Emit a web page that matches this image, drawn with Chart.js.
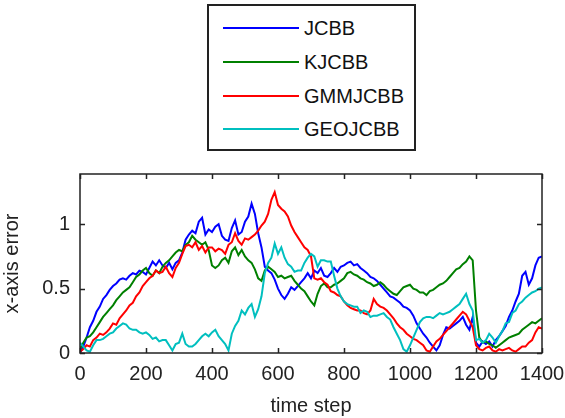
<!DOCTYPE html>
<html>
<head>
<meta charset="utf-8">
<script src="https://cdn.jsdelivr.net/npm/chart.js@4.4.1/dist/chart.umd.min.js"></script>
<style>
    html, body { margin: 0; padding: 0; background: #fff; }
    #wrap { position: relative; width: 565px; height: 418px; }
    #legend {
        position: absolute; left: 207px; top: 4px; width: 205px; height: 143px;
        border: 2px solid #222; background: #fff;
        font-family: "Liberation Sans", Arial, sans-serif; font-size: 20px; color: #111;
    }
    .item { position: absolute; left: 0; height: 24px; }
    .item .ln { position: absolute; left: 14px; top: 11px; width: 76px; height: 2px; }
    .item .tx { position: absolute; left: 95px; top: 0; line-height: 24px; white-space: nowrap; }
</style>
</head>
<body>
<div id="wrap">
    <canvas id="chart" width="565" height="418"></canvas>
    <div id="legend"></div>
</div>
<script>
const seriesNames = ['JCBB', 'KJCBB', 'GMMJCBB', 'GEOJCBB'];
const seriesColors = ['#0000ff', '#008000', '#ff0000', '#00bfbf'];

const timeSteps = [
    0, 10, 20, 30, 40, 50, 60, 70, 80, 90,
    100, 110, 120, 130, 140, 150, 160, 170, 180, 190,
    200, 210, 220, 230, 240, 250, 260, 270, 280, 290,
    300, 310, 320, 330, 340, 350, 360, 370, 380, 390,
    400, 410, 420, 430, 440, 450, 460, 470, 480, 490,
    500, 510, 520, 530, 540, 550, 560, 570, 580, 590,
    600, 610, 620, 630, 640, 650, 660, 670, 680, 690,
    700, 710, 720, 730, 740, 750, 760, 770, 780, 790,
    800, 810, 820, 830, 840, 850, 860, 870, 880, 890,
    900, 910, 920, 930, 940, 950, 960, 970, 980, 990,
    1000, 1010, 1020, 1030, 1040, 1050, 1060, 1070, 1080, 1090,
    1100, 1110, 1120, 1130, 1140, 1150, 1160, 1170, 1180, 1190,
    1200, 1210, 1220, 1230, 1240, 1250, 1260, 1270, 1280, 1290,
    1300, 1310, 1320, 1330, 1340, 1350, 1360, 1370, 1380, 1390,
    1400
];

const jcbb = [
    0.00, 0.05, 0.12, 0.20, 0.25, 0.32, 0.36, 0.42, 0.45, 0.49,
    0.52, 0.54, 0.57, 0.58, 0.57, 0.60, 0.62, 0.61, 0.64, 0.63,
    0.61, 0.66, 0.71, 0.68, 0.72, 0.68, 0.66, 0.70, 0.65, 0.70,
    0.72, 0.78, 0.88, 0.92, 0.95, 0.93, 1.02, 1.05, 0.92, 0.96,
    0.94, 0.98, 1.00, 0.91, 0.88, 0.87, 0.97, 1.03, 0.92, 0.94,
    1.02, 1.06, 1.16, 1.08, 0.93, 0.82, 0.67, 0.64, 0.62, 0.57,
    0.50, 0.45, 0.42, 0.46, 0.51, 0.49, 0.52, 0.55, 0.58, 0.62,
    0.58, 0.64, 0.62, 0.66, 0.60, 0.59, 0.62, 0.66, 0.63, 0.67,
    0.68, 0.70, 0.71, 0.68, 0.69, 0.66, 0.64, 0.62, 0.59, 0.58,
    0.56, 0.53, 0.50, 0.47, 0.44, 0.43, 0.41, 0.39, 0.36, 0.35,
    0.33, 0.29, 0.23, 0.19, 0.15, 0.12, 0.08, 0.05, 0.02, 0.06,
    0.14, 0.20, 0.19, 0.21, 0.23, 0.25, 0.28, 0.22, 0.18, 0.28,
    0.08, 0.05, 0.09, 0.07, 0.09, 0.05, 0.10, 0.13, 0.17, 0.21,
    0.28, 0.33, 0.40, 0.46, 0.60, 0.63, 0.53, 0.58, 0.68, 0.74,
    0.75
];

const kjcbb = [
    0.03, 0.08, 0.12, 0.13, 0.16, 0.20, 0.24, 0.28, 0.31, 0.34,
    0.37, 0.41, 0.44, 0.47, 0.49, 0.51, 0.55, 0.59, 0.61, 0.64,
    0.66, 0.62, 0.60, 0.64, 0.62, 0.67, 0.70, 0.72, 0.75, 0.78,
    0.80, 0.79, 0.84, 0.86, 0.91, 0.88, 0.86, 0.84, 0.86, 0.80,
    0.68, 0.66, 0.68, 0.72, 0.74, 0.70, 0.79, 0.82, 0.76, 0.80,
    0.75, 0.72, 0.70, 0.65, 0.58, 0.56, 0.64, 0.67, 0.65, 0.63,
    0.59, 0.60, 0.58, 0.59, 0.60, 0.56, 0.53, 0.50, 0.48, 0.44,
    0.40, 0.37, 0.46, 0.52, 0.54, 0.51, 0.51, 0.53, 0.54, 0.56,
    0.58, 0.62, 0.63, 0.61, 0.60, 0.58, 0.57, 0.55, 0.54, 0.52,
    0.53, 0.55, 0.53, 0.50, 0.48, 0.46, 0.45, 0.48, 0.51, 0.52,
    0.53, 0.50, 0.49, 0.47, 0.47, 0.45, 0.48, 0.49, 0.51, 0.53,
    0.54, 0.56, 0.59, 0.62, 0.65, 0.66, 0.69, 0.71, 0.75, 0.72,
    0.33, 0.12, 0.08, 0.09, 0.07, 0.06, 0.04, 0.06, 0.08, 0.10,
    0.12, 0.13, 0.14, 0.15, 0.18, 0.20, 0.22, 0.24, 0.23, 0.25,
    0.27
];

const gmmjcbb = [
    0.01, 0.03, 0.06, 0.05, 0.10, 0.12, 0.15, 0.14, 0.16, 0.19,
    0.23, 0.22, 0.27, 0.30, 0.33, 0.37, 0.39, 0.44, 0.47, 0.52,
    0.55, 0.58, 0.60, 0.64, 0.62, 0.63, 0.67, 0.62, 0.59, 0.66,
    0.70, 0.77, 0.83, 0.84, 0.82, 0.86, 0.80, 0.83, 0.78, 0.82,
    0.82, 0.79, 0.81, 0.80, 0.77, 0.84, 0.86, 0.93, 0.87, 0.84,
    0.89, 0.88, 0.90, 0.92, 0.95, 0.99, 1.02, 1.08, 1.19, 1.25,
    1.15, 1.12, 1.10, 1.06, 0.99, 0.94, 0.90, 0.86, 0.82, 0.80,
    0.75, 0.58, 0.57, 0.58, 0.55, 0.53, 0.48, 0.47, 0.45, 0.44,
    0.40, 0.37, 0.35, 0.34, 0.33, 0.33, 0.31, 0.30, 0.33, 0.42,
    0.38, 0.36, 0.35, 0.33, 0.30, 0.27, 0.23, 0.20, 0.18, 0.15,
    0.13, 0.11, 0.10, 0.08, 0.06, 0.02, 0.01, 0.05, 0.09, 0.11,
    0.14, 0.17, 0.20, 0.23, 0.26, 0.29, 0.32, 0.30, 0.25, 0.20,
    0.06, 0.03, 0.02, 0.04, 0.05, 0.02, 0.01, 0.03, 0.02, 0.03,
    0.04, 0.02, 0.01, 0.03, 0.05, 0.05, 0.08, 0.10, 0.16, 0.20,
    0.19
];

const geojcbb = [
    0.08, 0.05, 0.02, 0.01, 0.06, 0.10, 0.10, 0.11, 0.13, 0.15,
    0.16, 0.19, 0.21, 0.23, 0.22, 0.19, 0.18, 0.18, 0.16, 0.15,
    0.16, 0.14, 0.11, 0.12, 0.09, 0.10, 0.10, 0.06, 0.02, 0.07,
    0.08, 0.15, 0.07, 0.05, 0.05, 0.07, 0.10, 0.13, 0.15, 0.13,
    0.16, 0.18, 0.13, 0.10, 0.07, 0.02, 0.15, 0.21, 0.25, 0.33,
    0.30, 0.35, 0.38, 0.28, 0.34, 0.44, 0.62, 0.70, 0.74, 0.85,
    0.77, 0.82, 0.74, 0.69, 0.67, 0.63, 0.64, 0.64, 0.70, 0.74,
    0.77, 0.75, 0.67, 0.72, 0.72, 0.71, 0.71, 0.60, 0.50, 0.44,
    0.40, 0.38, 0.37, 0.36, 0.36, 0.31, 0.33, 0.32, 0.28, 0.29,
    0.29, 0.30, 0.31, 0.28, 0.26, 0.20, 0.15, 0.10, 0.03, 0.01,
    0.06, 0.12, 0.18, 0.24, 0.27, 0.28, 0.28, 0.27, 0.29, 0.31,
    0.30, 0.31, 0.32, 0.34, 0.36, 0.38, 0.42, 0.46, 0.38, 0.33,
    0.10, 0.11, 0.08, 0.10, 0.15, 0.12, 0.08, 0.13, 0.17, 0.23,
    0.24, 0.31, 0.33, 0.38, 0.40, 0.43, 0.45, 0.47, 0.48, 0.50,
    0.51
];

const xTicks = [0, 200, 400, 600, 800, 1000, 1200, 1400];
const yTicks = [0, 0.5, 1];

const allSeries = [jcbb, kjcbb, gmmjcbb, geojcbb];
const FONT = '"Liberation Sans", Arial, sans-serif';
const AXIS_COLOR = '#222';

// frame round the plot with inward ticks on all four sides (MATLAB style)
const boxPlugin = {
    id: 'boxTicks',
    afterDraw(chart) {
        const { ctx, chartArea: a, scales } = chart;
        ctx.save();
        ctx.strokeStyle = AXIS_COLOR;
        ctx.lineWidth = 1.5;
        ctx.strokeRect(a.left, a.top, a.right - a.left, a.bottom - a.top);
        const len = 5;
        ctx.beginPath();
        scales.x.ticks.forEach(t => {
            const px = Math.round(scales.x.getPixelForValue(t.value)) + 0.5;
            ctx.moveTo(px, a.bottom); ctx.lineTo(px, a.bottom - len);
            ctx.moveTo(px, a.top); ctx.lineTo(px, a.top + len);
        });
        scales.y.ticks.forEach(t => {
            const py = Math.round(scales.y.getPixelForValue(t.value)) + 0.5;
            ctx.moveTo(a.left, py); ctx.lineTo(a.left + len, py);
            ctx.moveTo(a.right, py); ctx.lineTo(a.right - len, py);
        });
        ctx.stroke();
        ctx.restore();
    }
};

function noPad(s) {
    s.paddingLeft = 0; s.paddingRight = 0; s.paddingTop = 0; s.paddingBottom = 0;
}

const ctx = document.getElementById('chart').getContext('2d');
const chart = new Chart(ctx, {
    type: 'line',
    data: {
        datasets: allSeries.map((vals, i) => ({
            label: seriesNames[i],
            data: vals.map((v, j) => ({ x: timeSteps[j], y: v })),
            borderColor: seriesColors[i],
            borderWidth: 2,
            pointRadius: 0,
            tension: 0,
            fill: false,
            order: allSeries.length - i
        }))
    },
    options: {
        responsive: false,
        animation: false,
        layout: { padding: { top: 174, right: 23, left: 0, bottom: 0 } },
        plugins: { legend: { display: false }, tooltip: { enabled: false } },
        scales: {
            x: {
                type: 'linear',
                min: 0,
                max: 1400,
                afterBuildTicks: s => { s.ticks = xTicks.map(v => ({ value: v })); },
                afterFit: s => { s.height = 65; noPad(s); },
                grid: { drawOnChartArea: false, drawTicks: false },
                border: { display: false },
                ticks: {
                    color: AXIS_COLOR, padding: 9, maxRotation: 0,
                    font: { family: FONT, size: 20 },
                    callback: v => String(v)
                },
                title: {
                    display: true, text: 'time step', color: AXIS_COLOR,
                    font: { family: FONT, size: 20 }, padding: { top: 0, bottom: 0 }
                }
            },
            y: {
                min: 0,
                max: 1.39,
                afterBuildTicks: s => { s.ticks = yTicks.map(v => ({ value: v })); },
                afterFit: s => { s.width = 80; noPad(s); },
                grid: { drawOnChartArea: false, drawTicks: false },
                border: { display: false },
                ticks: {
                    color: AXIS_COLOR, padding: 10,
                    font: { family: FONT, size: 20 },
                    callback: v => String(v)
                },
                title: {
                    display: true, text: 'x-axis error', color: AXIS_COLOR,
                    font: { family: FONT, size: 20 }, padding: { top: 0, bottom: 0 }
                }
            }
        }
    },
    plugins: [boxPlugin]
});

// legend box, built from the chart's datasets
const legendEl = document.getElementById('legend');
const rowTops = [10, 44, 78, 111];
chart.data.datasets.forEach((ds, i) => {
    const item = document.createElement('div');
    item.className = 'item';
    item.style.top = rowTops[i] + 'px';
    item.innerHTML = `<div class="ln" style="background:${ds.borderColor}"></div><div class="tx">${ds.label}</div>`;
    legendEl.appendChild(item);
});
</script>
</body>
</html>
